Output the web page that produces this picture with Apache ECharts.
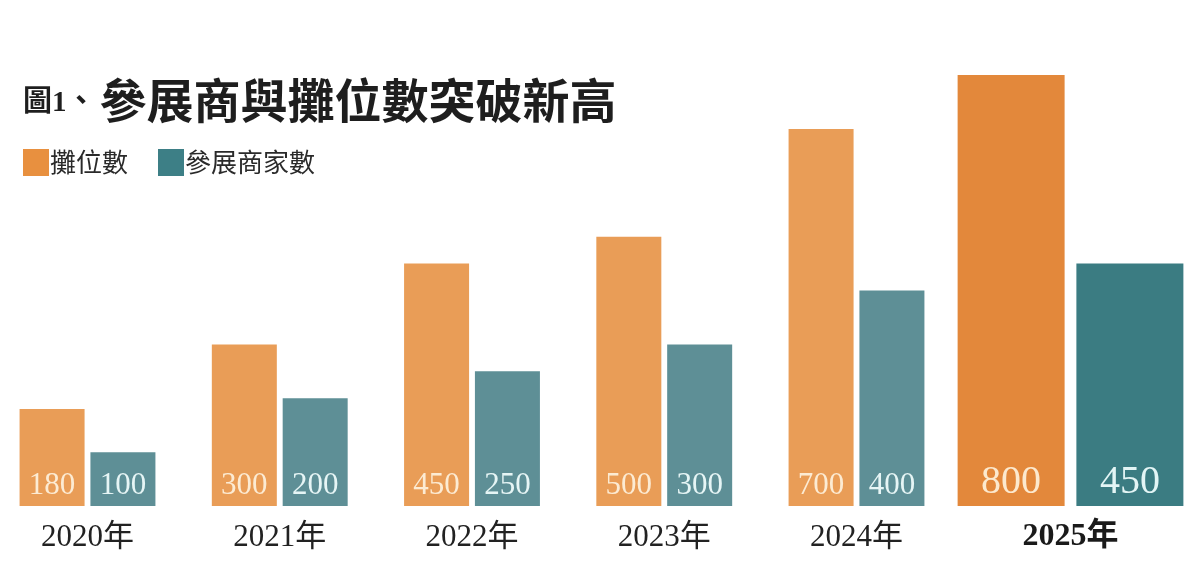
<!DOCTYPE html>
<html>
<head>
<meta charset="utf-8">
<script src="https://cdn.jsdelivr.net/npm/echarts@6/dist/echarts.min.js"></script>
<style>
  html, body { margin: 0; padding: 0; background: #fff; }
  #chart { width: 1200px; height: 562px; }
</style>
</head>
<body>
<div id="chart"></div>
<script>
// 資料
var years = ['2020年', '2021年', '2022年', '2023年', '2024年'];
var lastYear = ['2025年'];
var booths = [180, 300, 450, 500, 700];
var exhibitors = [100, 200, 250, 300, 400];
var boothsLast = [800];
var exhibitorsLast = [450];

var serif = "'Liberation Serif', 'Noto Sans CJK TC', serif";
var cjk = "'Noto Sans CJK TC', sans-serif";

var chart = echarts.init(document.getElementById('chart'));

function barLabel(size, color, dist) {
    return {
        show: true,
        position: 'insideBottom',
        distance: dist,
        fontFamily: serif,
        fontSize: size,
        color: color
    };
}

chart.setOption({
    animation: false,
    title: {
        left: 18,
        top: 72,
        text: '{a|圖1、}{b|參展商與攤位數突破新高}',
        textStyle: {
            rich: {
                a: { fontFamily: serif, fontWeight: 'bold', fontSize: 29, color: '#1e1e1e', verticalAlign: 'bottom', padding: [0, 4, 6, 0] },
                b: { fontFamily: cjk, fontWeight: 'bold', fontSize: 47, color: '#1e1e1e' }
            }
        }
    },
    legend: {
        left: 18,
        top: 144,
        itemWidth: 26,
        itemHeight: 27,
        itemGap: 30,
        icon: 'rect',
        selectedMode: false,
        textStyle: { fontFamily: cjk, fontSize: 26, color: '#2a2a2a', padding: [0, 0, 0, -4] },
        data: [
            { name: '攤位數', itemStyle: { color: '#E8903F' } },
            { name: '參展商家數', itemStyle: { color: '#3D7F86' } }
        ]
    },
    grid: [
        { left: 87.5, width: 769, top: 75, bottom: 56 },
        { left: 952, width: 237, top: 75, bottom: 56 }
    ],
    xAxis: [
        {
            gridIndex: 0,
            type: 'category',
            boundaryGap: false,
            data: years,
            axisLine: { show: false },
            axisTick: { show: false },
            axisLabel: { margin: 16, fontFamily: serif, fontSize: 31, color: '#222' }
        },
        {
            gridIndex: 1,
            type: 'category',
            data: lastYear,
            axisLine: { show: false },
            axisTick: { show: false },
            axisLabel: { margin: 15, fontFamily: serif, fontSize: 32, fontWeight: 'bold', color: '#1a1a1a' }
        }
    ],
    yAxis: [
        { gridIndex: 0, type: 'value', min: 0, max: 800, show: false },
        { gridIndex: 1, type: 'value', min: 0, max: 800, show: false }
    ],
    series: [
        {
            name: '攤位數',
            type: 'bar',
            xAxisIndex: 0,
            yAxisIndex: 0,
            barWidth: 65,
            barGap: '9%',
            itemStyle: { color: '#E99D57' },
            label: barLabel(31, '#FCEBD3', 5),
            data: booths
        },
        {
            name: '參展商家數',
            type: 'bar',
            xAxisIndex: 0,
            yAxisIndex: 0,
            barWidth: 65,
            barGap: '9%',
            itemStyle: { color: '#5E8F96' },
            label: barLabel(31, '#E6F5F5', 5),
            data: exhibitors
        },
        {
            name: '攤位數',
            type: 'bar',
            xAxisIndex: 1,
            yAxisIndex: 1,
            barWidth: 107,
            barGap: '11%',
            itemStyle: { color: '#E3883B' },
            label: barLabel(40, '#FCE9CE', 4),
            data: boothsLast
        },
        {
            name: '參展商家數',
            type: 'bar',
            xAxisIndex: 1,
            yAxisIndex: 1,
            barWidth: 107,
            barGap: '11%',
            itemStyle: { color: '#3B7C82' },
            label: barLabel(40, '#E3F5F5', 4),
            data: exhibitorsLast
        }
    ]
});

window.addEventListener('resize', function () {
    chart.resize();
});
</script>
</body>
</html>
